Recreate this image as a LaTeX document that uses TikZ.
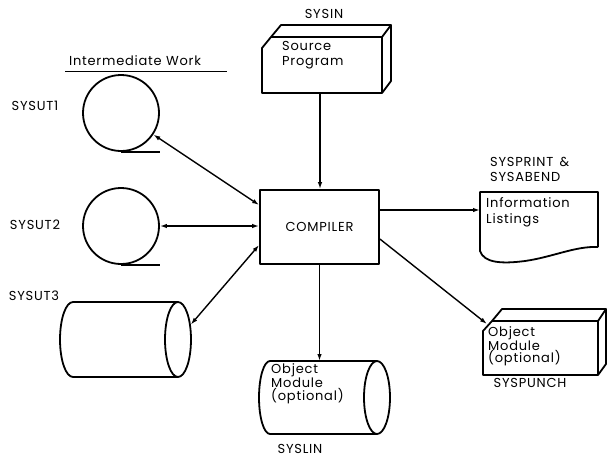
\documentclass[tikz,border=0pt]{standalone}
\usepackage{fontspec}
\setmainfont{Poppins}[LetterSpace=6.0]
\usetikzlibrary{arrows.meta, shapes.geometric}

\begin{document}
\begin{tikzpicture}[x=1pt, y=-1pt,
    dev/.style={line width=1.8pt, line join=round},
    reel/.style={dev, draw, circle, minimum size=76pt, inner sep=0pt},
    drumend/.style={dev, draw, ellipse, minimum width=26pt, minimum height=75pt, inner sep=0pt},
    lbl/.style={font=\fontsize{13}{15}\selectfont, inner sep=0pt},
    txt/.style={lbl, align=left, anchor=north west},
    arr/.style={line width=1.4pt, -{Latex[length=7pt,width=4.5pt]}},
    both/.style={line width=1.4pt, {Latex[length=7pt,width=4.5pt]}-{Latex[length=7pt,width=4.5pt]}}]
    \useasboundingbox (0,0) rectangle (608,464);
    % source deck
    \node[lbl] (sysin) at (324,14) {SYSIN};
    \draw[dev] (262,93) -- (262,48) -- (271,37) -- (382,37) -- (382,93) -- cycle
        (271,37) -- (281,25) -- (391,25) -- (382,37) (391,25) -- (391,81) -- (382,93);
    \node[txt] (srctxt) at (282,41) {Source\\Program};
    \coordinate (srcout) at (320,93);
    \node[dev, draw, minimum width=119pt, minimum height=74pt] (comp) at (319.5,227) {\fontsize{13}{15}\selectfont COMPILER};
    \draw[arr] (srcout) -- (srcout |- comp.north);
    % work files
    \node[lbl] (iw) at (135,61) {Intermediate Work};
    \draw[line width=1pt] (65,71) -- (227,71);
    \node[reel] (ut1) at (121,113) {};
    \draw[dev] (ut1.south) -- ++(39,0);
    \node[lbl] (ut1lbl) at (35,106) {SYSUT1};
    \node[reel] (ut2) at (121,226) {};
    \draw[dev] (ut2.south) -- ++(39,0);
    \node[lbl] (ut2lbl) at (35,225) {SYSUT2};
    \node[lbl] (ut3lbl) at (34,296) {SYSUT3};
    \draw[dev] (178,302) -- (73,302) arc[start angle=270, end angle=90, x radius=13, y radius=37.5] -- (178,377);
    \node[drumend] (ut3) at (178,339.5) {};
    \draw[both] (ut1) -- ([yshift=22pt]comp.west);
    \draw[both] (ut2) -- (ut2 -| comp.west);
    \draw[both] (ut3) -- ([yshift=-18pt]comp.west);
    % listings
    \node[lbl, align=left, anchor=north west] (prt) at (490,157) {SYSPRINT \,\&\\SYSABEND};
    \draw[dev] (598,247) -- (598,192) -- (480,192) -- (480,251)
        .. controls (484,263) and (502,264) .. (525,261) .. controls (553,257) and (575,246) .. (598,247);
    \node[txt, font=\fontsize{13}{16}\selectfont] (lsttxt) at (486,197) {Information\\Listings};
    \coordinate (lstin) at (480,210);
    \draw[arr] ([yshift=17pt]comp.east) -- (lstin);
    % punch deck
    \draw[dev] (483,375) -- (483,331) -- (492,321) -- (598,321) -- (598,375) -- cycle
        (492,321) -- (502,309) -- (606,309) -- (598,321) (606,309) -- (606,364) -- (598,375);
    \node[txt, font=\fontsize{13}{12.5}\selectfont] (pchtxt) at (488,326) {Object\\Module\\(optional)};
    \node[lbl] (pchlbl) at (530,383) {SYSPUNCH};
    \coordinate (pchin) at (487,324);
    \draw[arr] ([yshift=-12pt]comp.east) -- (pchin);
    % syslin drum
    \draw[dev] (377,361) -- (270,361) arc[start angle=270, end angle=90, x radius=11, y radius=36.5] -- (377,434);
    \node[drumend, minimum height=73pt] (lin) at (377,397.5) {};
    \node[txt, font=\fontsize{13}{12}\selectfont] (lintxt) at (271,363) {Object\\Module\\(optional)};
    \node[lbl] (linlbl) at (300,449) {SYSLIN};
    \coordinate (linin) at (319.5,361);
    \draw[arr] (comp.south) -- (linin);
\end{tikzpicture}
\end{document}
